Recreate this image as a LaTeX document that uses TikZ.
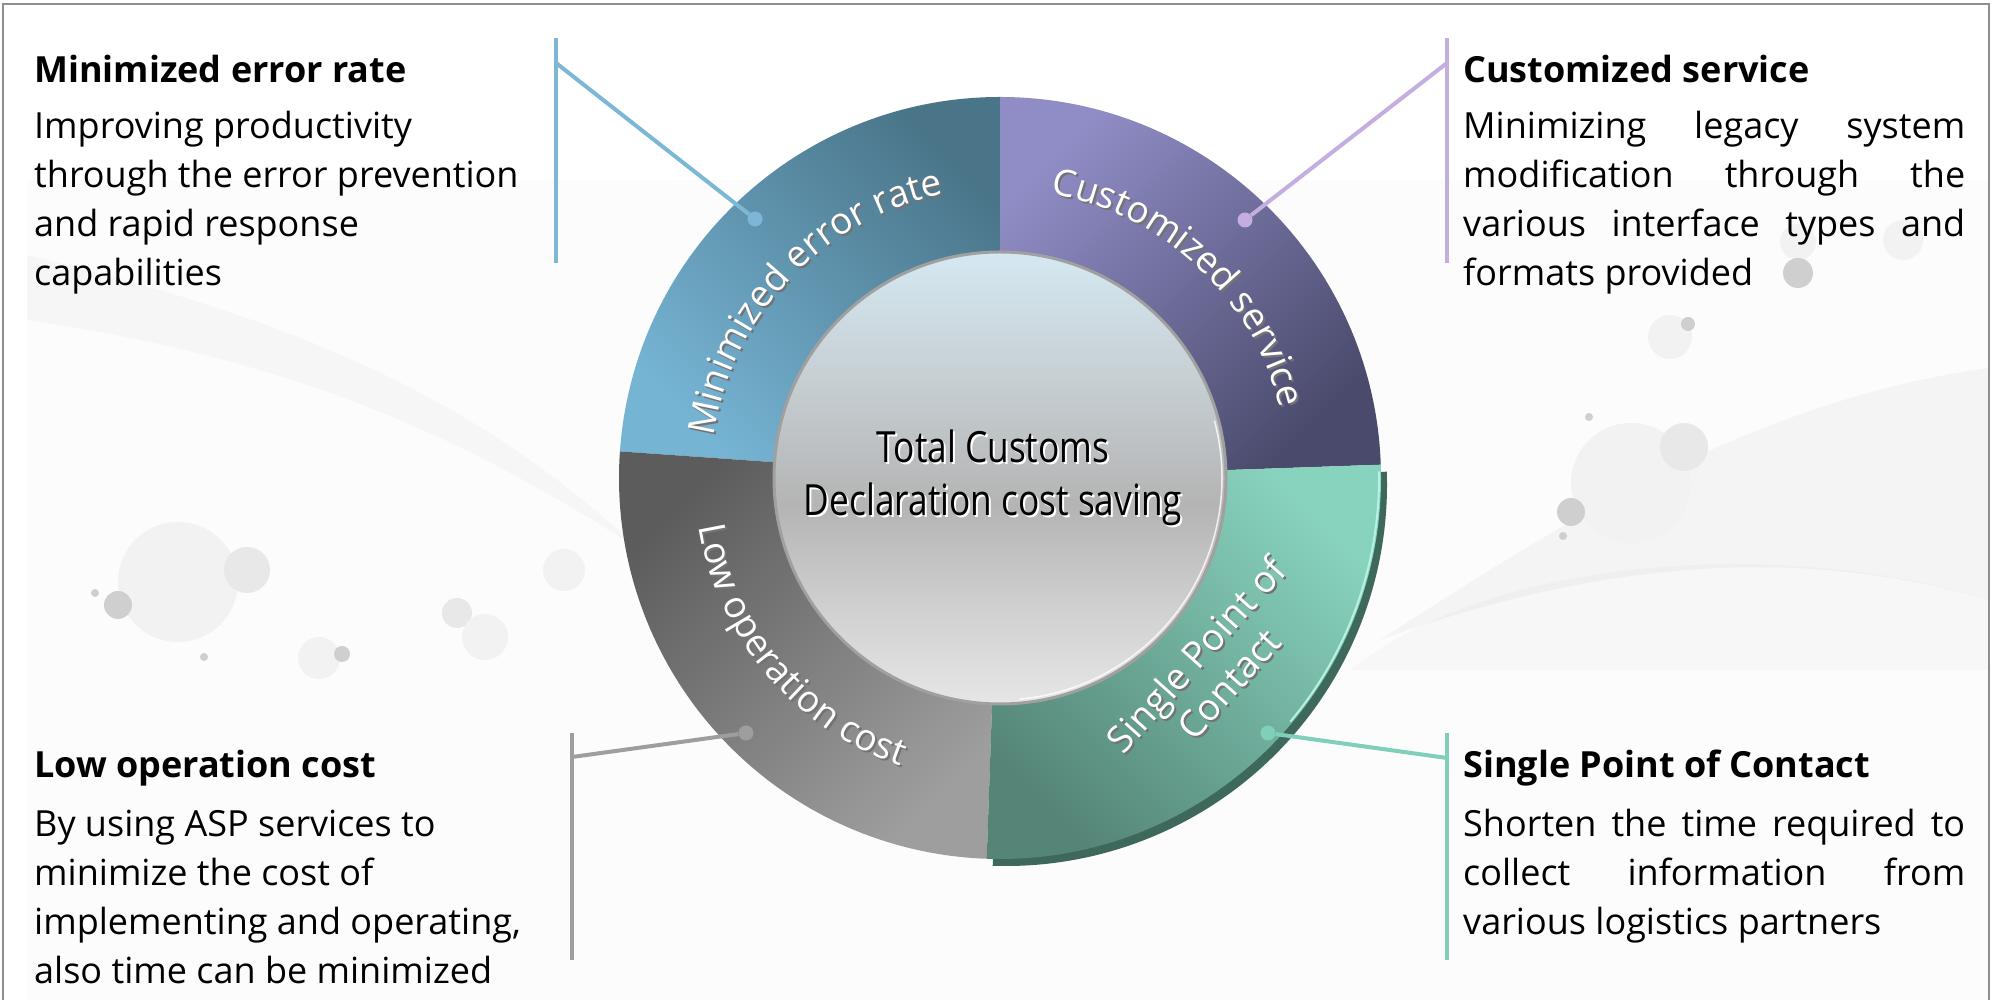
\documentclass[tikz,border=0pt]{standalone}
\usepackage{fontspec}
\setmainfont{Open Sans}
\usepackage{graphicx}
\usetikzlibrary{decorations.text}

\definecolor{frameGray}{HTML}{8E8E8E}
\definecolor{blueL}{HTML}{76B4D4}
\definecolor{blueD}{HTML}{4A7589}
\definecolor{purpL}{HTML}{908DC6}
\definecolor{purpD}{HTML}{4A4A6C}
\definecolor{greenL}{HTML}{88D3BE}
\definecolor{greenD}{HTML}{558577}
\definecolor{greenEdge}{HTML}{3D685B}
\definecolor{greenHi}{HTML}{B6F2E2}
\definecolor{grayD}{HTML}{5C5C5C}
\definecolor{grayL}{HTML}{9E9E9E}
\definecolor{lineBlue}{HTML}{7DB7D6}
\definecolor{linePurp}{HTML}{C4AEE0}
\definecolor{lineGray}{HTML}{9E9E9E}
\definecolor{lineGreen}{HTML}{80CFBA}
\definecolor{ballTop}{HTML}{D5E8F1}
\definecolor{ballUp}{HTML}{C5CDD1}
\definecolor{ballMid}{HTML}{B4B4B4}
\definecolor{ballLow}{HTML}{CFCFCF}
\definecolor{ballBot}{HTML}{E6E6E6}
\definecolor{ballRim}{HTML}{A0A0A0}

\pgfdeclareverticalshading{innerball}{100bp}{color(0bp)=(ballBot); color(25bp)=(ballBot); color(36bp)=(ballLow); color(47bp)=(ballMid); color(60bp)=(ballUp); color(75bp)=(ballTop); color(100bp)=(ballTop)}

\newcommand{\ringfont}{\fontsize{37}{44}\selectfont}
\newcommand{\blockfont}{\fontsize{36}{49}\selectfont}
\newcommand{\centerfont}{\fontsize{43}{53}\selectfont}

\tikzset{
  headtext/.style={anchor=base west, inner sep=0pt, font=\blockfont\bfseries},
  bodytext/.style={anchor=base west, inner sep=0pt, font=\blockfont},
  connline/.style={line width=4pt},
  dotnode/.style={circle, inner sep=0pt, minimum size=15pt},
  bubL/.style={fill=black!5},
  bubM/.style={fill=black!9},
  bubD/.style={fill=black!19},
}

\begin{document}
\begin{tikzpicture}[x=1pt,y=1pt]
\useasboundingbox (0,0) rectangle (1997,1000);
\fill[white] (0,0) rectangle (1997,1000);
% faint background
\fill[black!1] (27,0) rectangle (1989,820);
\fill[black, opacity=0.025] (27,745) .. controls (300,680) and (480,600) .. (640,450) .. controls (470,560) and (300,640) .. (27,680) -- cycle;
\fill[black, opacity=0.03] (1380,360) .. controls (1550,470) and (1750,600) .. (1989,632) -- (1989,400) .. controls (1800,455) and (1600,440) .. (1380,360) -- cycle;
\fill[black, opacity=0.02] (1350,330) .. controls (1500,450) and (1800,460) .. (1989,400) -- (1989,330) -- cycle;
% bubbles left
\fill[bubL] (178,418) circle[radius=60];
\fill[bubM] (247,430) circle[radius=23];
\fill[bubD] (118,395) circle[radius=14];
\fill[bubD] (95,407) circle[radius=4];
\fill[bubD] (204,343) circle[radius=4];
\fill[bubL] (319,342) circle[radius=21];
\fill[bubD] (342,346) circle[radius=8];
\fill[bubM] (457,387) circle[radius=15];
\fill[bubL] (485,363) circle[radius=23];
\fill[bubL] (564,430) circle[radius=21];
% bubbles right
\fill[bubL] (1798,758) circle[radius=18];
\fill[bubL] (1903,760) circle[radius=20];
\fill[bubD] (1798,727) circle[radius=15];
\fill[bubL] (1670,663) circle[radius=22];
\fill[bubD] (1688,676) circle[radius=7];
\fill[bubD] (1589,583) circle[radius=4];
\fill[bubL] (1631,517) circle[radius=60];
\fill[bubM] (1684,553) circle[radius=24];
\fill[bubD] (1571,488) circle[radius=14];
\fill[bubD] (1563,464) circle[radius=4];
% frame
\draw[frameGray, line width=2.5pt] (3,0) -- (3,996) -- (1989,996) -- (1989,0);

% ring: green extrusion
\fill[greenEdge] ([shift={(1006,515)}]-92:381) arc[start angle=-92,end angle=2,radius=381] -- ([shift={(1006,515)}]2:226) arc[start angle=2,end angle=-92,radius=226] -- cycle;
% segments (left color lies at direction 90+angle)
\shade[left color=blueL, right color=blueD, shading angle=135] ([shift={(1000,522)}]90:381) arc[start angle=90,end angle=176,radius=381] -- ([shift={(1000,522)}]176:226) arc[start angle=176,end angle=90,radius=226] -- cycle;
\shade[left color=purpL, right color=purpD, shading angle=45] ([shift={(1000,522)}]2:381) arc[start angle=2,end angle=90,radius=381] -- ([shift={(1000,522)}]90:226) arc[start angle=90,end angle=2,radius=226] -- cycle;
\shade[left color=grayD, right color=grayL, shading angle=45] ([shift={(1000,522)}]176:381) arc[start angle=176,end angle=268,radius=381] -- ([shift={(1000,522)}]268:226) arc[start angle=268,end angle=176,radius=226] -- cycle;
\shade[left color=greenD, right color=greenL, shading angle=135] ([shift={(1000,522)}]-92:381) arc[start angle=-92,end angle=2,radius=381] -- ([shift={(1000,522)}]2:226) arc[start angle=2,end angle=-92,radius=226] -- cycle;
\draw[greenHi, line width=2pt] ([shift={(1000,522)}]1:379) arc[start angle=1,end angle=-40,radius=379];

% ring labels (dark shadow, then white)
\path[decorate, decoration={text along path, text align=center, text={|\ringfont\color{black!55}|Minimized error rate}}] ([shift={(1002,520)}]180:289) arc[start angle=180,end angle=93,radius=289];
\path[decorate, decoration={text along path, text align=center, text={|\ringfont\color{white}|Minimized error rate}}] ([shift={(1000,522)}]180:289) arc[start angle=180,end angle=93,radius=289];
\path[decorate, decoration={text along path, text align=center, text={|\ringfont\color{black!55}|Customized service}}] ([shift={(1002,520)}]84:289) arc[start angle=84,end angle=10,radius=289];
\path[decorate, decoration={text along path, text align=center, text={|\ringfont\color{white}|Customized service}}] ([shift={(1000,522)}]84:289) arc[start angle=84,end angle=10,radius=289];
\path[decorate, decoration={text along path, text align=center, text={|\ringfont\color{black!55}|Low operation cost}}] ([shift={(1002,520)}]176:305) arc[start angle=176,end angle=264,radius=305];
\path[decorate, decoration={text along path, text align=center, text={|\ringfont\color{white}|Low operation cost}}] ([shift={(1000,522)}]176:305) arc[start angle=176,end angle=264,radius=305];
\node[rotate=48, align=center, font=\ringfont, text=black!55, inner sep=0pt] (spoc-sh) at (1214,329) {Single Point of\\Contact};
\node[rotate=48, align=center, font=\ringfont, text=white, inner sep=0pt] (spoc) at (1212,331) {Single Point of\\Contact};

% inner ball
\shade[shading=innerball, draw=ballRim, line width=3pt] (1000,522) circle[radius=226];
\draw[white, opacity=0.8, line width=1.5pt] ([shift={(1000,522)}]-85:222) arc[start angle=-85,end angle=15,radius=222];
\node[font=\centerfont, align=center, text=white, inner sep=0pt] (center-sh) at (995,520) {\scalebox{0.82}[1]{Total Customs}\\\scalebox{0.82}[1]{Declaration cost saving}};
\node[font=\centerfont, align=center, text=black, inner sep=0pt] (center) at (993,522) {\scalebox{0.82}[1]{Total Customs}\\\scalebox{0.82}[1]{Declaration cost saving}};

% connectors
\coordinate (b-top) at (556,962); \coordinate (b-elb) at (556,937); \coordinate (b-bot) at (556,737);
\coordinate (p-top) at (1447,962); \coordinate (p-elb) at (1447,937); \coordinate (p-bot) at (1447,737);
\coordinate (g-top) at (572,267); \coordinate (g-elb) at (572,243); \coordinate (g-bot) at (572,40);
\coordinate (s-top) at (1447,267); \coordinate (s-elb) at (1447,242); \coordinate (s-bot) at (1447,40);
\node[dotnode, fill=lineBlue] (b-dot) at (755,781) {};
\node[dotnode, fill=linePurp] (p-dot) at (1245,780) {};
\node[dotnode, fill=lineGray] (g-dot) at (746,267) {};
\node[dotnode, fill=lineGreen] (s-dot) at (1268,267) {};
\draw[connline, lineBlue] (b-top) -- (b-bot);
\draw[connline, lineBlue] (b-elb) -- (b-dot);
\draw[connline, linePurp] (p-top) -- (p-bot);
\draw[connline, linePurp] (p-elb) -- (p-dot);
\draw[connline, lineGray] (g-top) -- (g-bot);
\draw[connline, lineGray] (g-elb) -- (g-dot);
\draw[connline, lineGreen] (s-top) -- (s-bot);
\draw[connline, lineGreen] (s-elb) -- (s-dot);

% text blocks
\node[headtext] (h-err) at (34,917) {Minimized error rate};
\node[bodytext] (t-err) at (34,861) {\parbox[t]{520pt}{\blockfont Improving productivity\\through the error prevention\\and rapid response\\capabilities}};
\node[headtext] (h-cus) at (1463,917) {Customized service};
\node[bodytext] (t-cus) at (1463,861) {\parbox[t]{502pt}{\blockfont \makebox[\linewidth][s]{Minimizing legacy system}\\\makebox[\linewidth][s]{modification through the}\\\makebox[\linewidth][s]{various interface types and}\\formats provided}};
\node[headtext] (h-low) at (34,222) {Low operation cost};
\node[bodytext] (t-low) at (34,163) {\parbox[t]{520pt}{\blockfont By using ASP services to\\minimize the cost of\\implementing and operating,\\also time can be minimized}};
\node[headtext] (h-spc) at (1463,222) {Single Point of Contact};
\node[bodytext] (t-spc) at (1463,163) {\parbox[t]{502pt}{\blockfont \makebox[\linewidth][s]{Shorten the time required to}\\\makebox[\linewidth][s]{collect information from}\\various logistics partners}};
\end{tikzpicture}
\end{document}
